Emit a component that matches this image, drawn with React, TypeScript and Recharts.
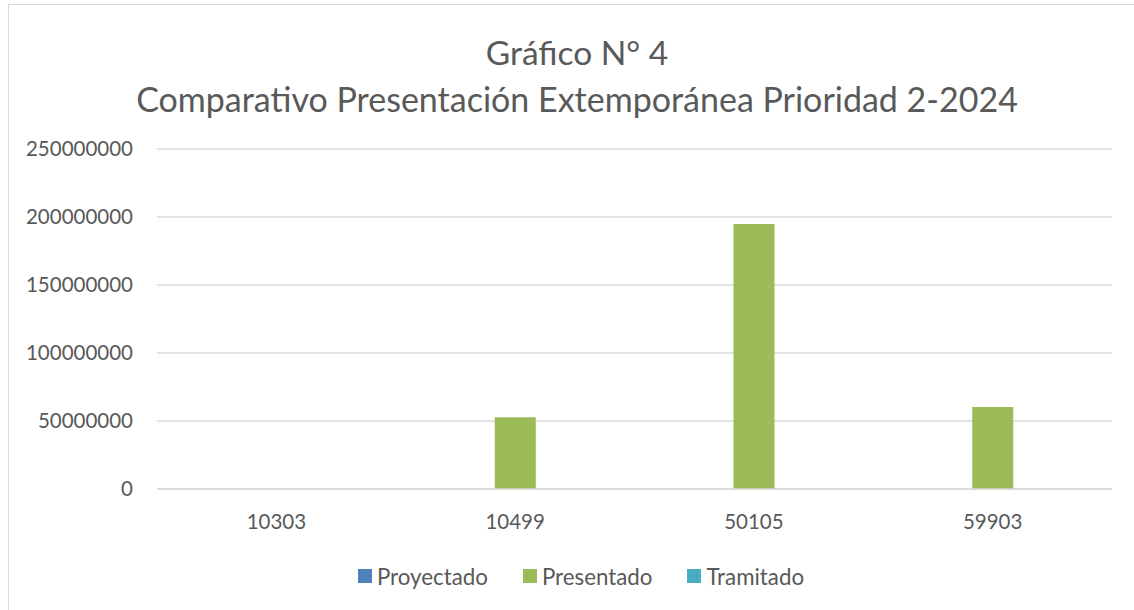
import React from "react";
import { BarChart, Bar, XAxis, YAxis, CartesianGrid } from "recharts";

const categories = ["10303", "10499", "50105", "59903"];
const proyectado = [0, 0, 0, 0];
const presentado = [0, 52800000, 194800000, 60300000];
const tramitado = [0, 0, 0, 0];
const yTicks = [0, 50000000, 100000000, 150000000, 200000000, 250000000];
const seriesNames = ["Proyectado", "Presentado", "Tramitado"];
const seriesColors = ["#4F81BD", "#9BBB59", "#4BACC6"];
const titleLines = ["Gráfico N° 4", "Comparativo Presentación Extemporánea Prioridad 2-2024"];

const data = categories.map((c, i) => ({
  name: c,
  Proyectado: proyectado[i],
  Presentado: presentado[i],
  Tramitado: tramitado[i],
}));

const FONT = "Lato, 'Open Sans', sans-serif";
const TEXT = "#595959";

export default function App() {
  return (
    <div style={{ position: "absolute", left: 0, top: 0, width: 1134, height: 610, overflow: "hidden", background: "#fff" }}>
      <div style={{ position: "absolute", left: 8, top: 4, width: 1138, height: 620, border: "1px solid #d9d9d9", boxSizing: "border-box", background: "#fff" }}>
        <svg style={{ position: "absolute", left: 0, top: 0 }} width={1138} height={130}>
          <text x={568} y={60} textAnchor="middle" fontFamily={FONT} fontSize={33.5} fill={TEXT}>{titleLines[0]}</text>
          <text x={568} y={107} textAnchor="middle" fontFamily={FONT} fontSize={34} fill={TEXT}>{titleLines[1]}</text>
        </svg>
        <div style={{ position: "absolute", left: -1, top: -1 }}>
          <BarChart width={1126} height={606} data={data} margin={{ top: 145, right: 22, left: 0, bottom: 0 }} barSize={41} barGap={0}>
            <CartesianGrid vertical={false} stroke="#d9d9d9" strokeWidth={1.5} />
            <XAxis dataKey="name" axisLine={{ stroke: "#d9d9d9", strokeWidth: 1.5 }} tickLine={false} tickSize={0} tickMargin={25} height={121}
              tick={{ fontFamily: FONT, fontSize: 20.5, fill: TEXT }} />
            <YAxis domain={[0, 250000000]} ticks={yTicks} axisLine={false} tickLine={false} tickSize={0} tickMargin={24} width={149}
              tick={{ fontFamily: FONT, fontSize: 20.5, fill: TEXT }} interval={0} />
            {seriesNames.map((n, i) => (
              <Bar key={n} dataKey={n} fill={seriesColors[i]} isAnimationActive={false} />
            ))}
          </BarChart>
        </div>
        <div style={{ position: "absolute", left: 0, width: 1144, top: 556, height: 30, display: "flex", justifyContent: "center", alignItems: "center", fontFamily: FONT, fontSize: 22.3, color: TEXT }}>
          {seriesNames.map((n, i) => (
            <div key={n} style={{ display: "flex", alignItems: "center", marginRight: i < 2 ? 35 : 0 }}>
              <div style={{ width: 14, height: 14, background: seriesColors[i], marginRight: 5 }} />
              <span>{n}</span>
            </div>
          ))}
        </div>
      </div>
    </div>
  );
}
